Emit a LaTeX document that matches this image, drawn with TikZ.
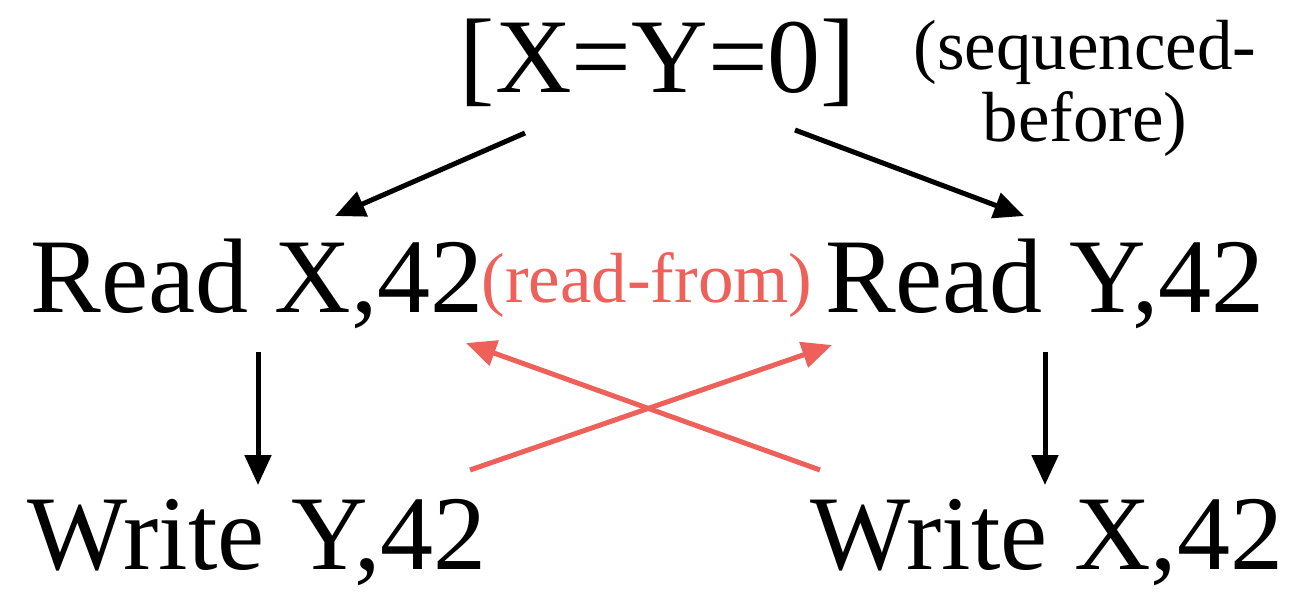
\documentclass[tikz,border=0pt]{standalone}
\usepackage{fontspec}
\setmainfont{Liberation Serif}
\usetikzlibrary{arrows.meta}
\definecolor{rf}{HTML}{EE605A}
\begin{document}
\begin{tikzpicture}[x=0.5pt,y=-0.5pt,
  big/.style={font=\fontsize{53}{58}\selectfont, inner sep=0pt, anchor=center},
  small/.style={font=\fontsize{35.5}{36}\selectfont, inner sep=0pt, anchor=center},
  sb/.style={line width=2.5pt, -{Triangle[length=15pt,width=13pt]}},
  rfarrow/.style={sb, draw=rf}]
\useasboundingbox (0,0) rectangle (1302,591);
\node[big] (init) at (658,63) {[X=Y=0]};
\node[small, align=center] (sb) at (1085,88) {(sequenced-\\before)};
\node[big] (rx) at (257,284) {Read X,42};
\node[small, text=rf] (rfl) at (647,285) {(read-from)};
\node[big] (ry) at (1045,284) {Read Y,42};
\node[big] (wy) at (257,543) {Write Y,42};
\node[big] (wx) at (1047,543) {Write X,42};
\coordinate (a1) at (525,133); \coordinate (a2) at (335,216);
\coordinate (b1) at (795,130); \coordinate (b2) at (1024,216);
\coordinate (c1) at (258,352); \coordinate (c2) at (258,485);
\coordinate (d1) at (1045,352); \coordinate (d2) at (1045,485);
\coordinate (e1) at (470,470); \coordinate (e2) at (832,345);
\coordinate (f1) at (820,470); \coordinate (f2) at (466,343);
\draw[sb] (a1) -- (a2);
\draw[sb] (b1) -- (b2);
\draw[sb] (c1) -- (c2);
\draw[sb] (d1) -- (d2);
\draw[rfarrow] (e1) -- (e2);
\draw[rfarrow] (f1) -- (f2);
\end{tikzpicture}
\end{document}
